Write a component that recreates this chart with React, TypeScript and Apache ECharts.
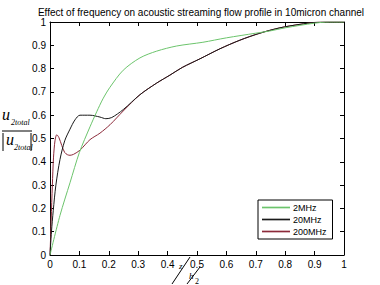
import React, { useEffect, useRef } from "react";
import * as echarts from "echarts";

const titleText = "Effect of frequency on acoustic streaming flow profile in 10micron channel";
const seriesNames = ["2MHz", "20MHz", "200MHz"];
const xTicks = [0, 0.1, 0.2, 0.3, 0.4, 0.5, 0.6, 0.7, 0.8, 0.9, 1];

const x2MHz = [0, 0.034, 0.068, 0.1, 0.136, 0.159, 0.18, 0.204, 0.249, 0.306, 0.363, 0.431, 0.52, 0.6, 0.7, 0.75, 0.8, 0.9, 0.95, 1.0];
const y2MHz = [0, 0.17, 0.31, 0.44, 0.55, 0.615, 0.67, 0.72, 0.793, 0.846, 0.875, 0.897, 0.913, 0.932, 0.952, 0.962, 0.975, 0.995, 1.0, 1.0];

const x20MHz = [0, 0.005, 0.011, 0.02, 0.034, 0.05, 0.068, 0.085, 0.102, 0.136, 0.17, 0.19, 0.21, 0.249, 0.306, 0.363, 0.408, 0.45, 0.51, 0.578, 0.646, 0.714, 0.782, 0.85, 0.9, 0.95, 1];
const y20MHz = [0, 0.1, 0.19, 0.3, 0.41, 0.49, 0.54, 0.58, 0.6, 0.6, 0.592, 0.585, 0.59, 0.624, 0.688, 0.738, 0.772, 0.805, 0.842, 0.885, 0.922, 0.952, 0.975, 0.99, 0.998, 1, 1];

const x200MHz = [0, 0.004, 0.008, 0.012, 0.017, 0.023, 0.03, 0.04, 0.05, 0.06, 0.068, 0.08, 0.102, 0.136, 0.17, 0.204, 0.249, 0.306, 0.363, 0.408, 0.45, 0.51, 0.578, 0.646, 0.714, 0.782, 0.85, 0.9, 0.95, 1];
const y200MHz = [0, 0.15, 0.3, 0.42, 0.49, 0.516, 0.505, 0.47, 0.44, 0.43, 0.428, 0.432, 0.45, 0.495, 0.523, 0.559, 0.618, 0.688, 0.738, 0.772, 0.805, 0.842, 0.885, 0.922, 0.952, 0.975, 0.99, 0.998, 1, 1];

const colors = ["#6cc46c", "#1a1a1a", "#8c2a3a"];

const pairs = (xs: number[], ys: number[]) => xs.map((x, i) => [x, ys[i]]);

export default function App() {
  const ref = useRef<HTMLDivElement>(null);
  useEffect(() => {
    if (!ref.current) return;
    const chart = echarts.init(ref.current, null, { renderer: "svg" });
    const font = "Liberation Sans, Arial, sans-serif";
    const serif = "Liberation Serif, Times New Roman, serif";
    const axisCommon = {
      type: "value" as const,
      min: 0,
      max: 1,
      interval: 0.1,
      axisLine: { show: true, onZero: false, lineStyle: { color: "#000", width: 1 } },
      axisTick: { show: true, inside: true, length: 4, lineStyle: { color: "#000" } },
      splitLine: { show: false },
    };
    const datasets = [pairs(x2MHz, y2MHz), pairs(x20MHz, y20MHz), pairs(x200MHz, y200MHz)];
    chart.setOption({
      animation: false,
      backgroundColor: "#fff",
      title: {
        text: titleText,
        left: 196,
        textAlign: "center",
        top: 2,
        textStyle: { fontFamily: font, fontSize: 10, fontWeight: "normal", color: "#000" },
      },
      grid: { left: 50, right: 36, top: 22, bottom: 30 },
      xAxis: [
        {
          ...axisCommon,
          position: "bottom",
          axisLabel: {
            fontFamily: font,
            fontSize: 10,
            lineHeight: 10,
            color: "#000",
            margin: 4,
            formatter: (v: number) => {
              const t = xTicks.find((k) => Math.abs(k - v) < 1e-6);
              return t === undefined ? "" : String(t);
            },
          },
        },
        { ...axisCommon, position: "top", axisLabel: { show: false } },
      ],
      yAxis: [
        {
          ...axisCommon,
          position: "left",
          axisLabel: {
            fontFamily: font,
            fontSize: 10,
            color: "#000",
            margin: 4,
            formatter: (v: number) => String(Math.round(v * 10) / 10),
          },
        },
        { ...axisCommon, position: "right", axisLabel: { show: false } },
      ],
      legend: {
        left: 258,
        top: 200,
        orient: "vertical",
        backgroundColor: "#fff",
        borderColor: "#000",
        borderWidth: 1,
        borderRadius: 0,
        padding: [3, 6, 3, 4],
        itemWidth: 28,
        itemHeight: 9,
        itemGap: 3,
        textStyle: { fontFamily: font, fontSize: 9, color: "#000", padding: [0, 0, 0, -2] },
        data: seriesNames.map((n) => ({ name: n, icon: "path://M0,0 L10,0 L10,0.6 L0,0.6 Z" })),
      },
      series: seriesNames.map((name, i) => ({
        name,
        type: "line",
        data: datasets[i],
        smooth: 0.3,
        symbol: "none",
        showSymbol: false,
        lineStyle: { color: colors[i], width: 1 },
        itemStyle: { color: colors[i] },
        z: 3 - i,
      })),
      graphic: [
        { type: "text", left: 2, top: 106, style: { text: "u", font: `italic 16px ${serif}`, fill: "#000" } },
        { type: "text", left: 11, top: 118, style: { text: "2total", font: `italic 8px ${serif}`, fill: "#000" } },
        { type: "line", shape: { x1: 2, y1: 131, x2: 32, y2: 131 }, style: { stroke: "#000", lineWidth: 1 } },
        { type: "line", shape: { x1: 3, y1: 133, x2: 3, y2: 151 }, style: { stroke: "#000", lineWidth: 1 } },
        { type: "line", shape: { x1: 31, y1: 133, x2: 31, y2: 151 }, style: { stroke: "#000", lineWidth: 1 } },
        { type: "text", left: 6, top: 131, style: { text: "u", font: `italic 16px ${serif}`, fill: "#000" } },
        { type: "text", left: 14, top: 143, style: { text: "2total", font: `italic 8px ${serif}`, fill: "#000" } },
        { type: "text", left: 179, top: 261, style: { text: "z", font: `italic 9px ${serif}`, fill: "#000" } },
        { type: "line", shape: { x1: 172, y1: 284, x2: 190, y2: 257 }, style: { stroke: "#000", lineWidth: 1 } },
        { type: "text", left: 189, top: 271, style: { text: "h", font: `italic 9px ${serif}`, fill: "#000" } },
        { type: "line", shape: { x1: 187, y1: 284, x2: 200, y2: 267 }, style: { stroke: "#000", lineWidth: 1 } },
        { type: "text", left: 195, top: 277, style: { text: "2", font: `8px ${serif}`, fill: "#000" } },
      ],
    });
    return () => chart.dispose();
  }, []);
  return <div ref={ref} style={{ width: 380, height: 285, position: "absolute", left: 0, top: 0 }} />;
}
